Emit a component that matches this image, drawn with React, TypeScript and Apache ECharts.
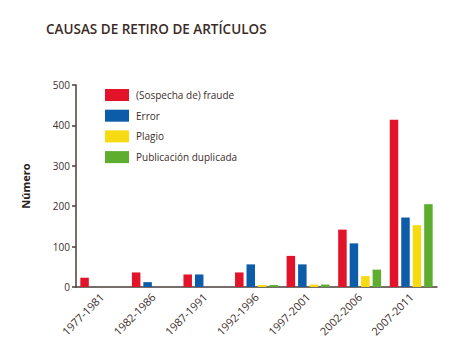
import React, { useEffect, useRef } from "react";
import * as echarts from "echarts";

const categories = ["1977-1981", "1982-1986", "1987-1991", "1992-1996", "1997-2001", "2002-2006", "2007-2011"];
const fraude = [23, 36, 31, 36, 77, 142, 414];
const errorV = [0, 12, 31, 56, 56, 108, 172];
const plagio = [0, 0, 0, 5, 6, 27, 153];
const duplicada = [0, 0, 0, 5, 6, 43, 205];
const seriesNames = ["(Sospecha de) fraude", "Error", "Plagio", "Publicación duplicada"];
const colors = ["#e3142a", "#0d5ca9", "#f6db12", "#5fad2e"];

const FONT = "'Open Sans', 'DejaVu Sans', sans-serif";
const TEXT = "#3d2e2b";

export default function App() {
  const ref = useRef<HTMLDivElement>(null);
  useEffect(() => {
    if (!ref.current) return;
    const chart = echarts.init(ref.current, null, { renderer: "svg" });
    const data = [fraude, errorV, plagio, duplicada];
    chart.setOption({
      animation: false,
      backgroundColor: "#ffffff",
      textStyle: { fontFamily: FONT },
      title: {
        text: "CAUSAS DE RETIRO DE ARTÍCULOS",
        left: 46,
        top: 22,
        padding: 0,
        textStyle: { fontFamily: FONT, fontSize: 13.5, fontWeight: 600, color: "#3a2a28" },
      },
      legend: {
        orient: "vertical",
        left: 105,
        top: 89,
        padding: 0,
        itemWidth: 24,
        itemHeight: 12,
        itemGap: 8.7,
        data: seriesNames,
        icon: "rect",
        textStyle: { fontFamily: FONT, fontSize: 10, color: TEXT, padding: [0, 0, 0, 2] },
      },
      graphic: [
        {
          type: "text",
          x: 25,
          y: 186,
          rotation: Math.PI / 2,
          style: {
            text: "Número",
            fontFamily: FONT,
            fontSize: 11,
            fontWeight: "bold",
            fill: "#2a1e1c",
            align: "center",
            verticalAlign: "middle",
          },
        },
      ],
      grid: { left: 76, right: 13, top: 85, bottom: 75, containLabel: false },
      xAxis: {
        type: "category",
        data: categories,
        boundaryGap: true,
        axisLine: { lineStyle: { color: "#4a3c38", width: 1.5 } },
        axisTick: { alignWithLabel: true, length: 5, lineStyle: { color: "#2e2220", width: 1.5 } },
        axisLabel: { rotate: 45, fontSize: 11, color: TEXT, margin: 8, fontFamily: FONT, interval: 0 },
      },
      yAxis: {
        type: "value",
        min: 0,
        max: 500,
        interval: 100,
        splitLine: { show: false },
        axisLine: { show: true, lineStyle: { color: "#4a3c38", width: 1.5 } },
        axisTick: { show: true, length: 4, lineStyle: { color: "#4a3c38", width: 1.5 } },
        axisLabel: { fontSize: 10, color: TEXT, margin: 6, fontFamily: FONT },
      },
      series: seriesNames.map((name, i) => ({
        name,
        type: "bar",
        data: data[i],
        barWidth: 8.5,
        barGap: "35%",
        itemStyle: { color: colors[i] },
      })),
    });
    return () => chart.dispose();
  }, []);
  return <div ref={ref} style={{ width: 450, height: 362, position: "absolute", left: 0, top: 0 }} />;
}
